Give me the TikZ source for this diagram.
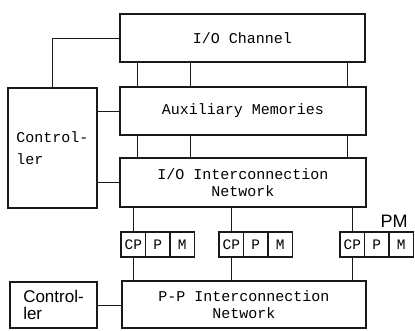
\documentclass[tikz,border=0pt]{standalone}
\usepackage{fontspec}
\setmonofont{Liberation Mono}
\newfontfamily\handfont{Liberation Sans}
\usetikzlibrary{calc, positioning}
\definecolor{cInk}{RGB}{25,25,25}

\begin{document}
\begin{tikzpicture}[
  x=1pt, y=-1pt,
  %% large functional unit
  unit/.style={
    draw=cInk, line width=1.4pt, inner sep=2pt, align=center,
    font=\fontsize{15}{17}\selectfont\ttfamily
  },
  %% one cell of a processing module
  cell/.style={
    draw=cInk, line width=1.2pt, outer sep=0pt, inner sep=0pt,
    minimum width=24.5pt, minimum height=25pt,
    font=\fontsize{14.5}{16}\selectfont\ttfamily
  },
  %% plain wire
  link/.style={draw=cInk, line width=0.8pt},
  hand/.style={font=\fontsize{17}{17}\selectfont\handfont},
]

\useasboundingbox (0,0) rectangle (415,330);

%% ── Main column ──────────────────────────────────────────────────────────────
\node[unit, minimum width=245pt, minimum height=48pt] (chan) at (242.5,38)
  {I/O Channel};
\node[unit, minimum width=246pt, minimum height=48pt] (aux) at (243,111)
  {Auxiliary Memories};
\node[unit, minimum width=246pt, minimum height=49pt] (ioin) at (243,182.5)
  {I/O Interconnection\\Network};
\node[unit, minimum width=244pt, minimum height=47pt] (pp) at (244,304.5)
  {P-P Interconnection\\Network};

%% ── Controllers ──────────────────────────────────────────────────────────────
\node[unit, minimum width=89pt, minimum height=120pt, align=left]
  (ctrlA) at (52.5,148) {Control-\\[5pt]ler};
\node[unit, hand, minimum width=87pt, minimum height=46pt, align=left]
  (ctrlB) at (53.5,305) {Control-\\ler};

%% ── Buses between the units ──────────────────────────────────────────────────
\foreach \dx in {18,71,228} {
  \coordinate (t\dx) at ($(chan.south west)+(\dx,0)$);
  \draw[link] (t\dx) -- (t\dx |- aux.north);
  \coordinate (b\dx) at ($(aux.south west)+(\dx,0)$);
  \draw[link] (b\dx) -- (b\dx |- ioin.north);
}

\draw[link] (ctrlA.north) |- (chan.west);
\draw[link] (ctrlA.east |- aux.west) -- (aux.west);
\draw[link] (ctrlA.east |- ioin.west) -- (ioin.west);
\draw[link] (ctrlB.east) -- (ctrlB.east -| pp.west);

%% ── Processing modules (CP | P | M) ─────────────────────────────────────────
\foreach \g/\x in {1/121, 2/219, 3/340} {
  \node[cell, anchor=west] (cp\g) at (\x,244.5) {CP};
  \node[cell, right=0pt of cp\g] (p\g) {P};
  \node[cell, right=0pt of p\g] (m\g) {M};
  \draw[link] (cp\g.north) -- (cp\g.north |- ioin.south);
  \draw[link] (cp\g.south) -- (cp\g.south |- pp.north);
}

\node[font=\fontsize{18}{18}\selectfont\handfont, anchor=south, inner sep=0pt]
  (pm) at ([xshift=5pt, yshift=4pt]p3.north east) {PM};

\end{tikzpicture}
\end{document}
